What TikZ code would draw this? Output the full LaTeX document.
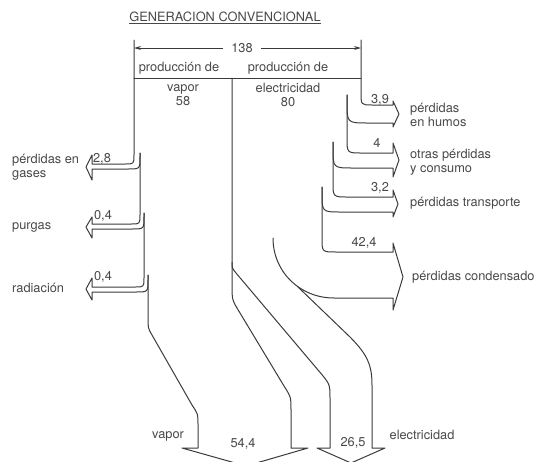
\documentclass[tikz,border=0pt]{standalone}
\usepackage{fontspec}
\setmainfont{TeX Gyre Heros}
\usetikzlibrary{arrows.meta}
\definecolor{Ink}{HTML}{3A3A3A}
\definecolor{Label}{HTML}{484848}
\tikzset{band/.style={draw=Ink,line width=1pt,line join=round,line cap=round},
  lbl/.style={font=\fontsize{12.8}{14}\selectfont,text=Label,inner sep=0pt,align=center},
  lossname/.style={lbl,anchor=west,align=left},
  dimline/.style={draw=Ink,line width=0.9pt,-{Stealth[length=7pt,width=4pt]}}}

\begin{document}
\begin{tikzpicture}[x=1pt,y=-1pt]
    \clip (0,0) rectangle (536,461);
    % texts
    \node[lbl] (title) at (225,18) {\underline{GENERACION CONVENCIONAL}};
    \node[lbl,inner xsep=8.6pt] (total) at (242,48) {138};
    \node[lbl] (prodv) at (179,68) {producción de};
    \node[lbl] (prode) at (288,68) {producción de};
    \node[lbl] (vapin) at (183,95) {vapor\\58};
    \node[lbl] (elin) at (288,95) {electricidad\\80};
    \node[lossname] (gases) at (12,167) {pérdidas en\\gases};
    \node[lossname] (purgas) at (12,227) {purgas};
    \node[lossname] (radiac) at (12,288) {radiación};
    \node[lbl] (qgases) at (102,159) {2,8};
    \node[lbl] (qpurgas) at (103,216) {0,4};
    \node[lbl] (qradiac) at (103,277) {0,4};
    \node[lossname] (humos) at (410,115) {pérdidas\\en humos};
    \node[lossname] (otras) at (410,162) {otras pérdidas\\y consumo};
    \node[lossname] (transp) at (410,203) {pérdidas transporte};
    \node[lossname] (conden) at (412,277) {pérdidas condensado};
    \node[lbl] (qhumos) at (380,100) {3,9};
    \node[lbl] (qotras) at (377,143) {4};
    \node[lbl] (qtransp) at (380,188) {3,2};
    \node[lbl] (qconden) at (364,243) {42,4};
    \node[lbl] (vapout) at (168,436) {vapor};
    \node[lbl] (qvapout) at (243,444) {54,4};
    \node[lbl] (qelout) at (353,443) {26,5};
    \node[lbl] (elout) at (422,435) {electricidad};
    % total width
    \coordinate (dimL) at (134,48);
    \coordinate (dimR) at (361,48);
    \draw[dimline] (total) -- (dimL);
    \draw[dimline] (total) -- (dimR);
    \draw[band] (134,78) -- (361,78);
    % vapour: losses to the left
    \draw[band] (134,40) -- (134,155) .. controls (134,164) .. (125,164) -- (92,164) -- (92,155) -- (86,167)
      -- (92,180) -- (92,169) -- (128,169) .. controls (140,169) .. (140,157) -- (140,153);
    \draw[band] (140,153) -- (140,215) .. controls (140,224) .. (131,224) -- (92,224) -- (92,217) -- (86,227)
      -- (92,238) -- (92,229) -- (132,229) .. controls (144,229) .. (144,217) -- (144,213);
    \draw[band] (144,213) -- (144,278) .. controls (144,287) .. (135,287) -- (92,287) -- (92,278) -- (86,289)
      -- (92,300) -- (92,292) -- (136,292) .. controls (148,292) .. (148,280) -- (148,275);
    \draw[band] (148,275) -- (148,318) .. controls (148,328) .. (152,335) -- (192,405) .. controls (198,414) .. (198,424)
      -- (198,448) -- (182,448) -- (246,466) -- (308,448) -- (291,448) -- (291,410)
      .. controls (291,397) .. (284,386) -- (240,313) .. controls (232,300) .. (232,285) -- (232,78);
    % electricity: losses to the right
    \draw[band] (361,40) -- (361,92) .. controls (361,105) .. (372,105) -- (393,105) -- (393,101) -- (399,114)
      -- (393,127) -- (393,123) -- (368,123) .. controls (347,123) .. (347,102) -- (347,95);
    \draw[band] (347,95) -- (347,138) .. controls (347,153) .. (362,153) -- (393,153) -- (393,143) -- (399,160)
      -- (393,177) -- (393,168) -- (353,168) .. controls (333,168) .. (333,148) -- (333,142);
    \draw[band] (333,142) -- (333,182) .. controls (333,197) .. (348,197) -- (393,197) -- (393,190) -- (398,204)
      -- (393,217) -- (393,212) -- (341,212) .. controls (322,212) .. (322,193) -- (322,187);
    \draw[band] (322,187) -- (322,238) .. controls (322,252) .. (336,252) -- (393,252) -- (393,243) -- (403,277)
      -- (393,310) -- (393,298) -- (334,298) .. controls (300,298) and (273,272) .. (273,238);
    \draw[band] (298,287) -- (350,337) .. controls (368,355) and (372,366) .. (372,385) -- (372,448) -- (385,448)
      -- (351,463) -- (317,448) -- (330,448) -- (330,398) .. controls (330,384) .. (318,370)
      -- (236,273) .. controls (232,268) .. (232,262);
\end{tikzpicture}
\end{document}
